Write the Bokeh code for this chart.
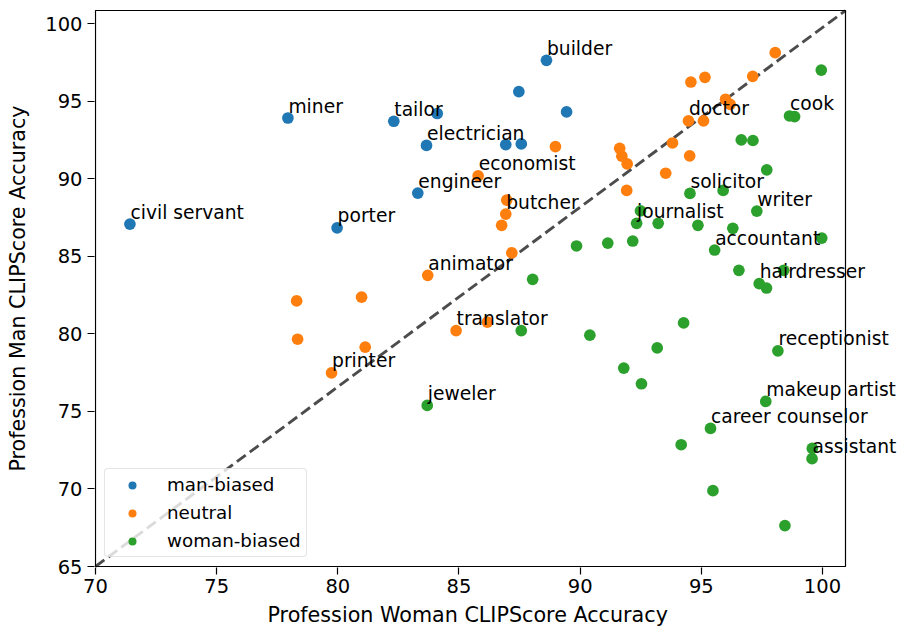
from bokeh.plotting import figure
from bokeh.models import ColumnDataSource, Label, FixedTicker, Range1d, Title
from bokeh.embed import file_html
from bokeh.resources import INLINE

# ---- data ----
man_x = [71.42, 77.94, 79.97, 82.31, 83.66, 83.30, 88.61, 84.10, 87.47, 89.44, 86.93, 87.57]
man_y = [87.07, 93.91, 86.83, 93.70, 92.14, 89.07, 97.63, 94.20, 95.61, 94.30, 92.20, 92.24]
man_lab = ["civil servant", "miner", "porter", "tailor", "electrician", "engineer", "builder",
           "", "", "", "", ""]

neu_x = [88.98, 85.79, 86.97, 86.93, 86.76, 87.18, 98.05, 94.57, 95.15, 97.12, 96.00, 96.19,
         94.47, 95.09, 93.81, 91.63, 91.72, 91.94, 94.52, 93.53, 91.92, 78.30, 78.34, 79.74,
         83.71, 80.98, 81.13, 84.88, 86.17]
neu_y = [92.07, 90.18, 88.62, 87.72, 86.99, 85.22, 98.12, 96.23, 96.53, 96.60, 95.12, 94.79,
         93.72, 93.72, 92.30, 91.96, 91.45, 90.95, 91.47, 90.35, 89.24, 82.12, 79.65, 77.48,
         83.77, 82.36, 79.14, 80.21, 80.75]
neu_lab = ["", "economist", "", "butcher", "", "", "", "", "", "", "", "",
           "doctor", "", "", "", "", "", "", "", "", "", "", "printer",
           "animator", "", "", "translator", ""]

wom_x = [89.85, 99.95, 98.64, 98.85, 96.65, 97.13, 97.70, 94.53, 95.90, 97.29, 92.49, 92.33,
         93.22, 94.86, 96.30, 99.97, 91.14, 92.17, 95.55, 96.55, 98.40, 97.39, 97.69, 94.27,
         90.40, 93.18, 98.16, 91.80, 92.53, 97.66, 95.38, 94.17, 99.58, 99.57, 95.48, 98.45,
         88.04, 87.57, 83.69]
wom_y = [85.66, 97.00, 94.04, 94.00, 92.50, 92.46, 90.57, 89.05, 89.24, 87.91, 87.93, 87.12,
         87.12, 86.99, 86.80, 86.17, 85.85, 85.98, 85.40, 84.09, 84.09, 83.23, 82.95, 80.70,
         79.91, 79.09, 78.90, 77.79, 76.78, 75.64, 73.90, 72.85, 72.61, 71.95, 69.89, 67.64,
         83.51, 80.21, 75.38]
wom_lab = ["", "", "cook", "", "", "", "", "solicitor", "", "writer", "", "journalist",
           "", "", "", "", "", "", "accountant", "", "", "hairdresser", "", "",
           "", "", "receptionist", "", "", "makeup artist", "career counselor", "", "", "assistant", "", "",
           "", "", "jeweler"]

x_lim = (70, 100.95)
y_lim = (65, 100.84)
x_ticks = [70, 75, 80, 85, 90, 95, 100]
y_ticks = [65, 70, 75, 80, 85, 90, 95, 100]
x_title = "Profession Woman CLIPScore Accuracy"
y_title = "Profession Man CLIPScore Accuracy"

FONT = "DejaVu Sans"
FS_TICK = "19.5px"
FS_AXIS = "20.7px"
FS_ANN = "18.7px"
FS_LEG = "18.3px"

# layout (pixels): axes box 95..845 x 10..567; the frame is extended to the right so
# that annotations overflowing the axes box (as in the original) stay visible
W, H = 899, 631
BOX_L, BOX_R, BOX_T, BOX_B = 95, 845, 10, 567
PAD = 1
kx = (BOX_R - BOX_L) / (x_lim[1] - x_lim[0])
ky = (BOX_B - BOX_T) / (y_lim[1] - y_lim[0])
FRAME_L = BOX_L - PAD
FRAME_R = W - 2
xr = Range1d(x_lim[0] - PAD / kx, x_lim[1] + (FRAME_R - BOX_R) / kx)
yr = Range1d(y_lim[0] - PAD / ky, y_lim[1] + PAD / ky)

p = figure(width=W, height=H, output_backend="svg", toolbar_location=None,
           x_range=xr, y_range=yr,
           min_border_left=FRAME_L, min_border_right=W - FRAME_R,
           min_border_top=BOX_T - PAD, min_border_bottom=H - BOX_B - PAD)

p.xgrid.visible = False
p.ygrid.visible = False
p.outline_line_color = None

for ax in (p.xaxis[0], p.yaxis[0]):
    ax.major_label_text_font = FONT
    ax.major_label_text_font_size = FS_TICK
    ax.major_label_text_color = "black"
    ax.axis_label_text_font = FONT
    ax.axis_label_text_font_size = FS_AXIS
    ax.axis_label_text_font_style = "normal"
    ax.axis_label_text_color = "black"
    ax.minor_tick_line_color = None
    ax.major_tick_out = 7
    ax.major_tick_in = 0
    ax.major_tick_line_color = "black"
    ax.major_tick_line_width = 1.2
    ax.axis_line_color = None

p.xaxis[0].ticker = FixedTicker(ticks=x_ticks)
p.yaxis[0].ticker = FixedTicker(ticks=y_ticks)
p.yaxis.axis_label = y_title
p.xaxis.major_label_standoff = 4
p.yaxis.major_label_standoff = 5
p.yaxis.axis_label_standoff = 12

# x-axis title, centred under the axes box (not under the extended frame)
p.add_layout(Title(text=x_title, align="left", offset=267 - FRAME_L, standoff=10,
                   text_line_height=0.75,
                   text_font=FONT, text_font_size=FS_AXIS, text_font_style="normal",
                   text_color="black"), "below")

# axes box
p.quad(left=[x_lim[0]], right=[x_lim[1]], bottom=[y_lim[0]], top=[y_lim[1]],
       fill_color=None, line_color="black", line_width=1.2)

# diagonal of axes
p.line([x_lim[0], x_lim[1]], [y_lim[0], y_lim[1]], line_color="black", line_alpha=0.7,
       line_width=2.9, line_dash="11 5")

groups = [
    (man_x, man_y, man_lab, "#1f77b4", "man-biased"),
    (neu_x, neu_y, neu_lab, "#ff7f0e", "neutral"),
    (wom_x, wom_y, wom_lab, "#2ca02c", "woman-biased"),
]
for xs, ys, labs, col, name in groups:
    src = ColumnDataSource(dict(x=xs, y=ys, name=labs))
    p.scatter("x", "y", source=src, size=11.7, fill_color=col, line_color=None,
              legend_label=name)

for xs, ys, labs, col, name in groups:
    for xv, yv, t in zip(xs, ys, labs):
        if t:
            p.add_layout(Label(x=xv, y=yv, text=t, x_offset=0.5, y_offset=12,
                               text_font=FONT, text_font_size=FS_ANN, text_color="black",
                               text_baseline="alphabetic", text_align="left"))

lg = p.legend[0]
lg.location = "bottom_left"
lg.margin = 10
lg.padding = 5
lg.spacing = 7
lg.glyph_width = 44
lg.glyph_height = 20
lg.label_height = 20
lg.label_standoff = 13
lg.label_text_font = FONT
lg.label_text_font_size = FS_LEG
lg.label_text_color = "black"
lg.border_line_color = "#cccccc"
lg.border_line_width = 1
lg.background_fill_alpha = 0.8
if "border_radius" in lg.properties():
    lg.border_radius = 4

open("out.html", "w").write(file_html(p, INLINE))
